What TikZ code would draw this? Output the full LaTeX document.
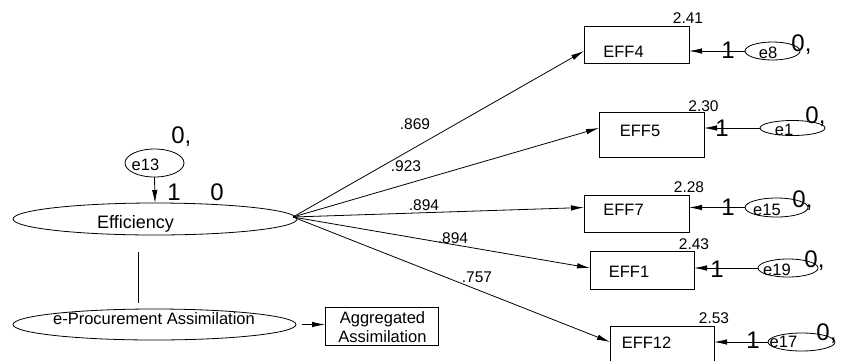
\documentclass[tikz,border=0pt]{standalone}
\usepackage{fontspec}
\setmainfont{Liberation Sans}
\usetikzlibrary{shapes.geometric,arrows.meta,calc}
\begin{document}
\begin{tikzpicture}[x=1pt,y=-1pt,
  line width=0.8pt,
  lat/.style={draw, ellipse, inner sep=0pt, outer sep=0pt},
  obs/.style={draw, rectangle, inner sep=0pt, outer sep=0pt},
  txt/.style={inner sep=0pt, anchor=base, font=\fontsize{16.5}{19}\selectfont},
  big/.style={inner sep=0pt, anchor=base west, font=\fontsize{24}{28}\selectfont},
  coef/.style={inner sep=0pt, anchor=base, font=\fontsize{15.5}{18}\selectfont},
  arr/.style={-{Latex[length=13pt,width=5.5pt]}}]
\useasboundingbox (0,0) rectangle (843,360);
\clip (0,0) rectangle (843,360);
% latent variables
\node[lat, minimum width=284, minimum height=32] (eff) at (155,219) {};
\node[txt, font=\fontsize{18}{21}\selectfont] (efft) at (135.5,228) {Efficiency};
\node[lat, minimum width=59, minimum height=28] (e13) at (154.5,163) {};
\node[txt] (e13t) at (145.5,170) {e13};
\node[big] (one13) at (167,200) {1};
\node[big] (zero13) at (210,200) {0};
\node[big] (zc13) at (171,143) {0,};
\draw[arr] (e13.south) -- (eff.north);
\node[lat, minimum width=283, minimum height=31] (epa) at (154.5,324.5) {};
\node[txt] (epat) at (154,324) {e-Procurement Assimilation};
\node[obs, minimum width=113, minimum height=38] (agg) at (381.5,326) {};
\node[txt] (aggt1) at (382.5,323) {Aggregated};
\node[txt] (aggt2) at (382.5,342) {Assimilation};
\draw ($(eff.south)+(-17,17)$) -- ($(epa.north)+(-16.5,-6.5)$);
\draw[arr] ($(epa.east)+(6,0)$) -- (agg.west |- epa.east);
% observed indicators
\node[obs, minimum width=105, minimum height=37] (eff4) at (636.5,44.5) {};
\node[txt] (eff4t) at (623.5,57) {EFF4};
\node[obs, minimum width=105, minimum height=45] (eff5) at (651.5,134.5) {};
\node[txt] (eff5t) at (640,136) {EFF5};
\node[obs, minimum width=105, minimum height=37] (eff7) at (636.5,213.5) {};
\node[txt] (eff7t) at (623.5,215) {EFF7};
\node[obs, minimum width=104, minimum height=38] (eff1) at (642,270) {};
\node[txt] (eff1t) at (629,277) {EFF1};
\node[obs, minimum width=104, minimum height=42] (eff12) at (662,347) {};
\node[txt] (eff12t) at (646.5,348) {EFF12};
% intercepts
\node[coef] (i4) at (688,23) {2.41};
\node[coef] (i5) at (703.5,111) {2.30};
\node[coef] (i7) at (689,192) {2.28};
\node[coef] (i1) at (694,249) {2.43};
\node[coef] (i12) at (714,323) {2.53};
% error terms
\node[lat, minimum width=55, minimum height=18] (e8) at (772.5,51) {};
\node[txt] (e8t) at (768,58) {e8};
\node[lat, minimum width=65, minimum height=15] (e1) at (792.5,128) {};
\node[txt] (e1t) at (784,135) {e1};
\node[lat, minimum width=63, minimum height=19] (e15) at (776.5,207.5) {};
\node[txt] (e15t) at (767,215) {e15};
\node[lat, minimum width=60, minimum height=18] (e19) at (788,268) {};
\node[txt] (e19t) at (777,275) {e19};
\node[lat, minimum width=67, minimum height=18] (e17) at (801.5,342) {};
\node[txt] (e17t) at (783.5,347) {e17};
% weights and means of errors
\node[big] (w8) at (721,58) {1};
\node[big] (m8) at (791,51) {0,};
\node[big] (w1) at (715,136) {1};
\node[big] (m1) at (805,123) {0,};
\node[big] (w15) at (721,215) {1};
\node[big] (m15) at (792,207) {0,};
\node[big] (w19) at (710,277) {1};
\node[big] (m19) at (804,267) {0,};
\node[big] (w17) at (746,348) {1};
\node[big] (m17) at (816,340) {0,};
\draw[arr] (e8.west) -- (e8.west -| eff4.east);
\draw[arr] (e1.west) -- (e1.west -| eff5.east);
\draw[arr] (e15.west) -- (e15.west -| eff7.east);
\draw[arr] (e19.west) -- (e19.west -| eff1.east);
\draw[arr] (e17.west) -- (e17.west -| eff12.east);
% loadings
\coordinate (src) at ($(eff.east)+(-4,-2)$);
\draw[arr] (src) -- (eff4.west |- e8.west);
\draw[arr] (src) -- (eff5.west |- e1.west);
\draw[arr] (src) -- (eff7.west |- e15.west);
\draw[arr] (src) -- (eff1.west |- e19.west);
\draw[arr] (src) -- (eff12.west |- e17.west);
\node[coef] (l4) at (415,129) {.869};
\node[coef] (l5) at (406,171) {.923};
\node[coef] (l7) at (424,210) {.894};
\node[coef] (l1) at (453,243) {.894};
\node[coef] (l12) at (477,282) {.757};
\end{tikzpicture}
\end{document}
